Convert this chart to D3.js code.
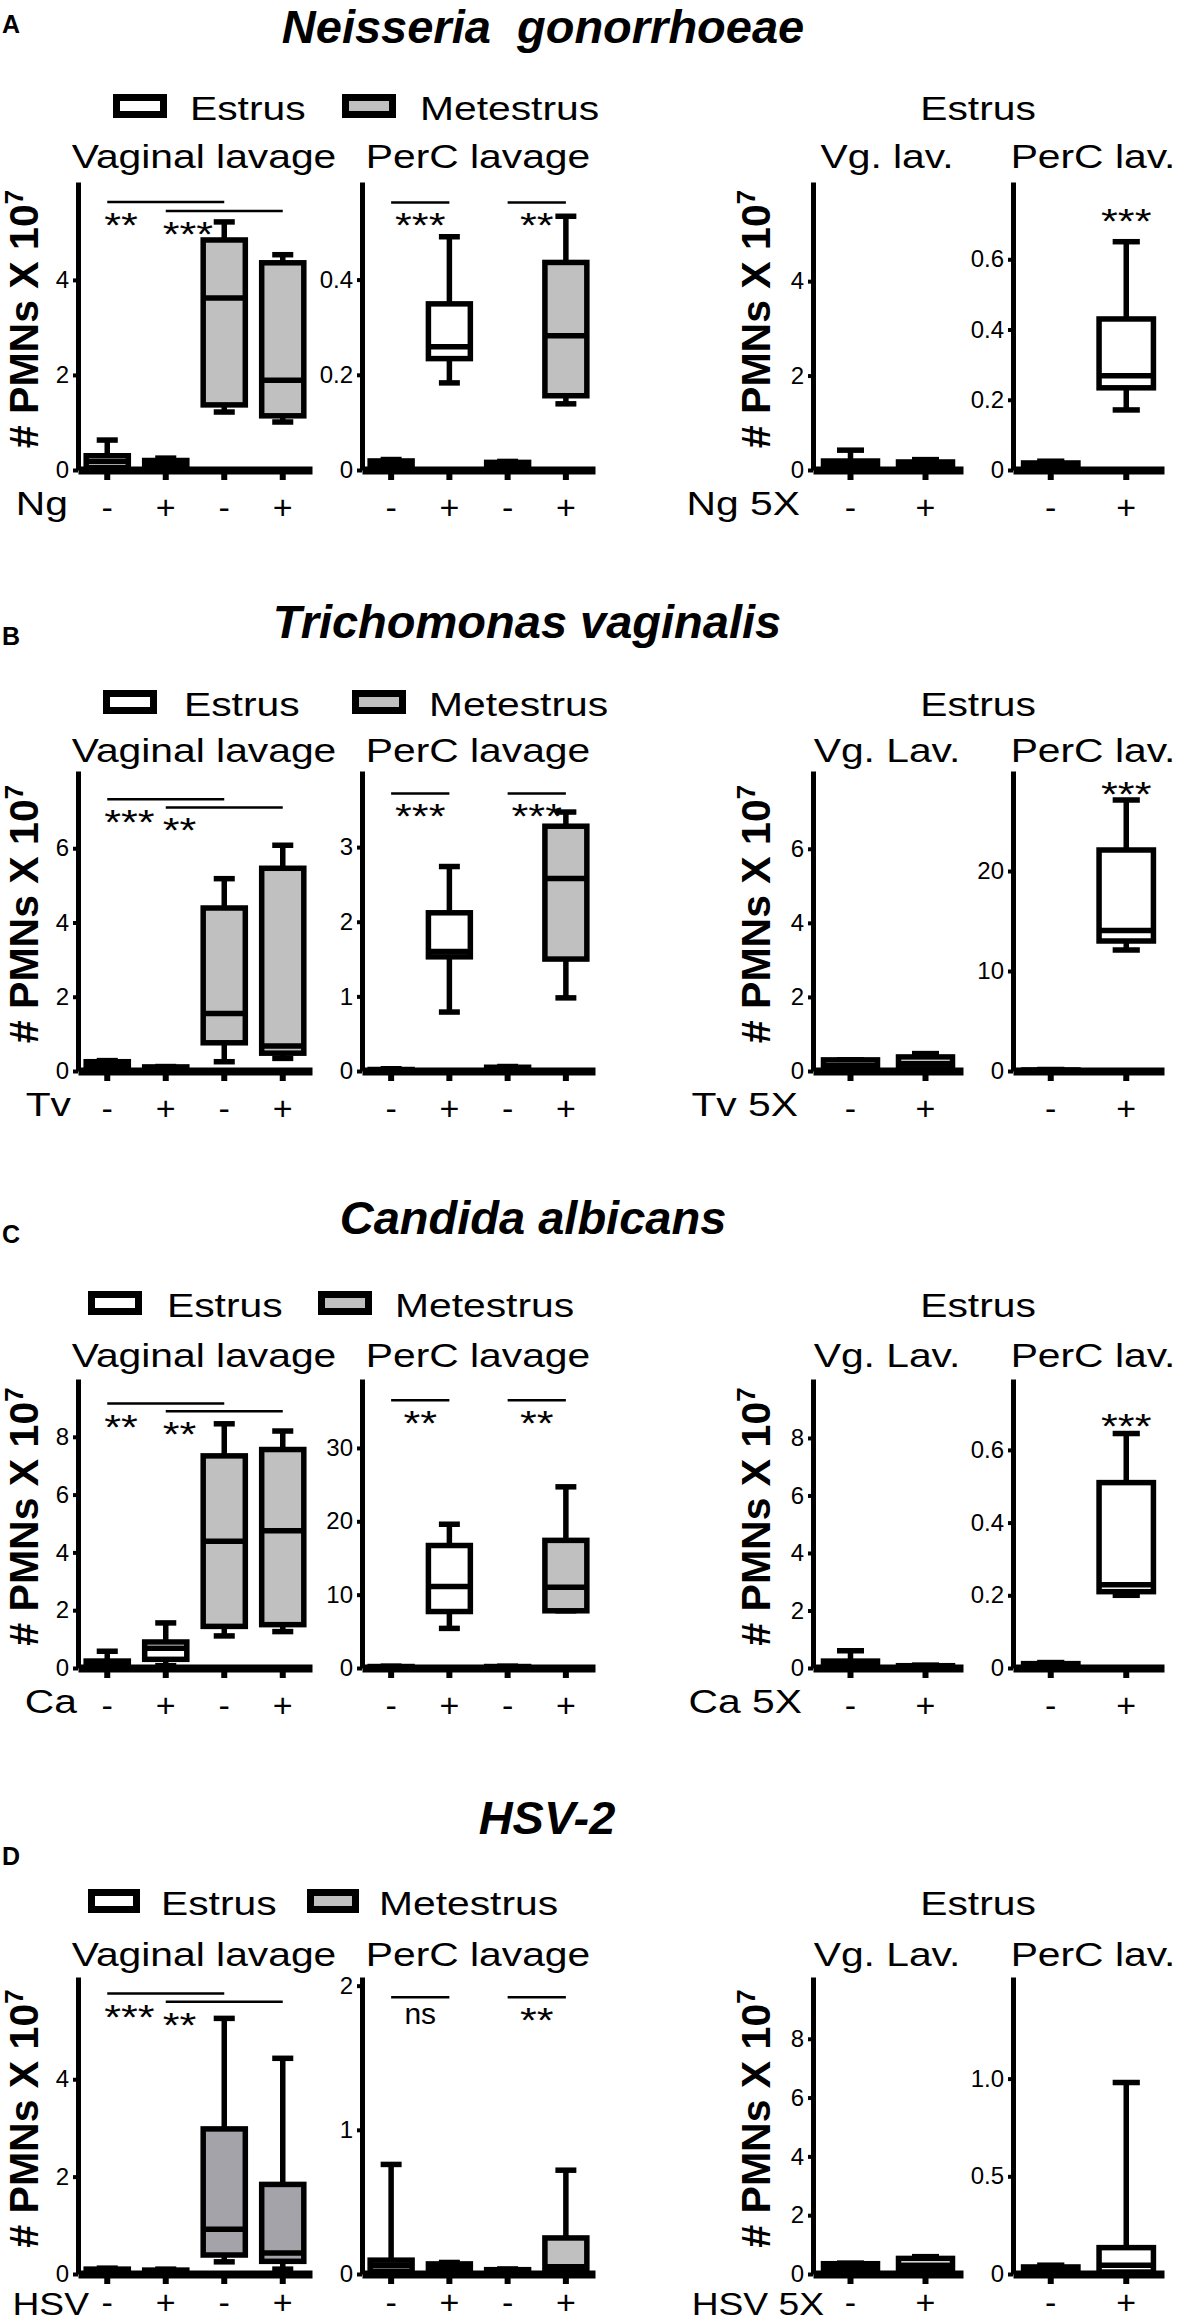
<!DOCTYPE html>
<html>
<head>
<meta charset="utf-8">
<script src="https://cdnjs.cloudflare.com/ajax/libs/d3/7.8.5/d3.min.js"></script>
<style>
body { margin: 0; background: #fff; }
text { font-family: "Liberation Sans", Arial, Helvetica, sans-serif; fill: #000; }
</style>
</head>
<body>
<div id="chart-area"></div>
<script>
// ====================== DATA =======================================
var panelLetters = ["A", "B", "C", "D"];
var panelTitles = ["Neisseria  gonorrhoeae", "Trichomonas vaginalis", "Candida albicans", "HSV-2"];
var agentLabels = ["Ng", "Tv", "Ca", "HSV"];
var agent5xLabels = ["Ng 5X", "Tv 5X", "Ca 5X", "HSV 5X"];
var legendLabels = ["Estrus", "Metestrus"];
var plotTitles = ["Vaginal lavage", "PerC lavage"];
var plotTitles5x = [["Vg. lav.", "PerC lav."], ["Vg. Lav.", "PerC lav."], ["Vg. Lav.", "PerC lav."], ["Vg. Lav.", "PerC lav."]];
var header5x = "Estrus";
var yTitle = "# PMNs X 10";
var yTitleExp = "7";

// groups: stage index (0 = Estrus, 1 = Metestrus) and infection sign
var groupStage = [0, 0, 1, 1];
var groupSign = ["-", "+", "-", "+"];
var groupStage5x = [0, 0];
var groupSign5x = ["-", "+"];

// box stats: [whisker low, Q1, median, Q3, whisker high]
var ngVaginal = [[0, 0.05, 0.18, 0.30, 0.63], [0, 0.03, 0.12, 0.20, 0.25], [1.22, 1.37, 3.62, 4.84, 5.22], [1.01, 1.14, 1.89, 4.36, 4.53]];
var ngPerC = [[0, 0.003, 0.01, 0.019, 0.022], [0.183, 0.234, 0.259, 0.349, 0.49], [0, 0.002, 0.008, 0.016, 0.018], [0.139, 0.156, 0.282, 0.436, 0.533]];
var ng5xVaginal = [[0, 0.02, 0.10, 0.19, 0.42], [0, 0.02, 0.08, 0.17, 0.22]];
var ng5xPerC = [[0, 0.003, 0.01, 0.02, 0.025], [0.171, 0.234, 0.268, 0.43, 0.65]];

var tvVaginal = [[0, 0.03, 0.12, 0.25, 0.28], [0, 0.01, 0.05, 0.11, 0.12], [0.25, 0.76, 1.55, 4.39, 5.18], [0.34, 0.48, 0.67, 5.46, 6.08]];
var tvPerC = [[0, 0.005, 0.01, 0.02, 0.03], [0.79, 1.53, 1.6, 2.12, 2.74], [0, 0.01, 0.03, 0.05, 0.06], [0.98, 1.5, 2.58, 3.28, 3.47]];
var tv5xVaginal = [[0, 0.05, 0.15, 0.30, 0.30], [0.02, 0.06, 0.2, 0.38, 0.47]];
var tv5xPerC = [[0, 0.02, 0.05, 0.1, 0.15], [12.1, 13.0, 14.05, 22.1, 27.1]];

var caVaginal = [[0, 0.02, 0.1, 0.24, 0.58], [0.08, 0.3, 0.68, 0.9, 1.56], [1.11, 1.44, 4.39, 7.34, 8.45], [1.26, 1.5, 4.75, 7.56, 8.2]];
var caPerC = [[0, 0.05, 0.1, 0.2, 0.25], [5.4, 7.7, 11.1, 16.7, 19.6], [0, 0.05, 0.1, 0.2, 0.25], [7.8, 7.8, 11.0, 17.4, 24.7]];
var ca5xVaginal = [[0, 0.02, 0.12, 0.24, 0.6], [0, 0.01, 0.04, 0.08, 0.1]];
var ca5xPerC = [[0, 0.002, 0.006, 0.012, 0.015], [0.2, 0.21, 0.229, 0.51, 0.645]];

var hsvVaginal = [[0, 0.01, 0.05, 0.1, 0.12], [0, 0.01, 0.04, 0.08, 0.1], [0.25, 0.39, 0.92, 2.98, 5.25], [0.1, 0.26, 0.43, 1.84, 4.43]];
var hsvPerC = [[0, 0.02, 0.06, 0.096, 0.76], [0, 0.01, 0.04, 0.07, 0.08], [0, 0.005, 0.015, 0.03, 0.035], [0, 0.02, 0.05, 0.25, 0.72]];
var hsv5xVaginal = [[0, 0.05, 0.2, 0.35, 0.37], [0.1, 0.18, 0.3, 0.53, 0.59]];
var hsv5xPerC = [[0, 0.005, 0.02, 0.036, 0.045], [0, 0.01, 0.045, 0.135, 0.98]];

// y axis top value per plot (vaginal, perc, 5x vaginal, 5x perc)
var ngYMax = [6.06, 0.605, 6.1, 0.82];
var tvYMax = [8.08, 4.02, 8.1, 30];
var caYMax = [10, 39.4, 10.05, 0.795];
var hsvYMax = [6.1, 2.06, 10.1, 1.52];

// y ticks
var ngTicks = [[0, 2, 4], [0, 0.2, 0.4], [0, 2, 4], [0, 0.2, 0.4, 0.6]];
var tvTicks = [[0, 2, 4, 6], [0, 1, 2, 3], [0, 2, 4, 6], [0, 10, 20]];
var caTicks = [[0, 2, 4, 6, 8], [0, 10, 20, 30], [0, 2, 4, 6, 8], [0, 0.2, 0.4, 0.6]];
var hsvTicks = [[0, 2, 4], [0, 1, 2], [0, 2, 4, 6, 8], [0, 0.5, 1.0]];
var ngTickLabels = [["0", "2", "4"], ["0", "0.2", "0.4"], ["0", "2", "4"], ["0", "0.2", "0.4", "0.6"]];
var tvTickLabels = [["0", "2", "4", "6"], ["0", "1", "2", "3"], ["0", "2", "4", "6"], ["0", "10", "20"]];
var caTickLabels = [["0", "2", "4", "6", "8"], ["0", "10", "20", "30"], ["0", "2", "4", "6", "8"], ["0", "0.2", "0.4", "0.6"]];
var hsvTickLabels = [["0", "2", "4"], ["0", "1", "2"], ["0", "2", "4", "6", "8"], ["0", "0.5", "1.0"]];

// significance: [from group, to group, level, label]; same group = no bar
var ngSig = [[[0, 2, 5.64, "**"], [1, 3, 5.45, "***"]], [[0, 1, 0.562, "***"], [2, 3, 0.562, "**"]], [], [[1, 1, 0.734, "***"]]];
var tvSig = [[[0, 2, 7.32, "***"], [1, 3, 7.1, "**"]], [[0, 1, 3.72, "***"], [2, 3, 3.72, "***"]], [], [[1, 1, 28.6, "***"]]];
var caSig = [[[0, 2, 9.15, "**"], [1, 3, 8.88, "**"]], [[0, 1, 36.5, "**"], [2, 3, 36.5, "**"]], [], [[1, 1, 0.69, "***"]]];
var hsvSig = [[[0, 2, 5.76, "***"], [1, 3, 5.59, "**"]], [[0, 1, 1.92, "ns"], [2, 3, 1.92, "**"]], [], []];

// tables built from the arrays above
var panelBoxes = [
    [ngVaginal, ngPerC, ng5xVaginal, ng5xPerC],
    [tvVaginal, tvPerC, tv5xVaginal, tv5xPerC],
    [caVaginal, caPerC, ca5xVaginal, ca5xPerC],
    [hsvVaginal, hsvPerC, hsv5xVaginal, hsv5xPerC]
];
var panelYMax = [ngYMax, tvYMax, caYMax, hsvYMax];
var panelTicks = [ngTicks, tvTicks, caTicks, hsvTicks];
var panelTickLabels = [ngTickLabels, tvTickLabels, caTickLabels, hsvTickLabels];
var panelSig = [ngSig, tvSig, caSig, hsvSig];

// ====================== LAYOUT =====================================
// panel D sits on the page bottom: its bottom row is pulled up a little and set smaller
var layout = [
    {top: 182, bottom: 470, titleX: 543, titleY: 43, letterY: 33, legendY: 106, subY: 168, boxX: [113, 342], textX: [190, 420], agentX: 68, agent5xX: 800, tickDy: 0, agentDy: 45, agentSize: 34},
    {top: 771, bottom: 1071, titleX: 527, titleY: 638, letterY: 645, legendY: 702, subY: 762, boxX: [103, 352], textX: [184, 429], agentX: 71, agent5xX: 798, tickDy: 0, agentDy: 45, agentSize: 34},
    {top: 1379, bottom: 1668, titleX: 533, titleY: 1234, letterY: 1243, legendY: 1303, subY: 1367, boxX: [88, 318], textX: [167, 395], agentX: 77, agent5xX: 802, tickDy: 0, agentDy: 45, agentSize: 34},
    {top: 1977, bottom: 2274, titleX: 547, titleY: 1834, letterY: 1865, legendY: 1901, subY: 1966, boxX: [88, 307], textX: [161, 379], agentX: 89, agent5xX: 824, tickDy: -9, agentDy: 41, agentSize: 31}
];
var plotX = [[78, 312], [362, 595], [813, 963], [1013, 1164]];
var subX = [204, 478, 887, 1093];
var stageFill = ["#ffffff", "#c0c0c0"];
var darkFill = "#a3a3a9"; // HSV vaginal metestrus boxes are darker
var stretch = 1.2;

var svg = d3.select("#chart-area")
    .append("svg")
        .attr("width", 1181)
        .attr("height", 2322);

function addText(parent, x, y, str, size, anchor, sx) {
    return parent.append("text")
        .attr("transform", "translate(" + x + "," + y + ") scale(" + (sx || 1) + ",1)")
        .attr("text-anchor", anchor || "start")
        .attr("font-size", size)
        .text(str);
}

function addYLabel(parent, cx, cy) {
    var t = parent.append("text")
        .attr("transform", "translate(" + cx + "," + cy + ") rotate(-90)")
        .attr("text-anchor", "middle")
        .attr("font-size", 41)
        .attr("font-weight", "bold");
    t.append("tspan").attr("dy", "0.36em").text(yTitle);
    t.append("tspan").attr("font-size", 26).attr("dy", "-0.55em").text(yTitleExp);
}

function drawPlot(g, p, k, L) {
    var boxes = panelBoxes[p][k];
    var stages = k < 2 ? groupStage : groupStage5x;
    var signs = k < 2 ? groupSign : groupSign5x;

    var x = d3.scaleBand()
        .domain(d3.range(boxes.length))
        .range(plotX[k]);
    var y = d3.scaleLinear()
        .domain([0, panelYMax[p][k]])
        .range([L.bottom, L.top]);

    var bw = x.bandwidth() * 0.72;
    var cap = x.bandwidth() * 0.36;
    function cx(i) { return x(i) + x.bandwidth() / 2; }

    // boxes
    var bg = g.append("g")
        .attr("stroke", "#000")
        .attr("stroke-width", 5.5);

    boxes.forEach(function(b, i) {
        var c = cx(i);
        var fill = stageFill[stages[i]];
        if (p === 3 && k === 0 && stages[i] === 1) fill = darkFill;
        bg.append("line")
            .attr("x1", c).attr("x2", c)
            .attr("y1", y(b[0])).attr("y2", y(b[4]));
        bg.append("line")
            .attr("x1", c - cap / 2).attr("x2", c + cap / 2)
            .attr("y1", y(b[4])).attr("y2", y(b[4]));
        bg.append("line")
            .attr("x1", c - cap / 2).attr("x2", c + cap / 2)
            .attr("y1", y(b[0])).attr("y2", y(b[0]));
        bg.append("rect")
            .attr("x", c - bw / 2)
            .attr("y", y(b[3]))
            .attr("width", bw)
            .attr("height", y(b[1]) - y(b[3]))
            .attr("fill", fill);
        bg.append("line")
            .attr("x1", c - bw / 2).attr("x2", c + bw / 2)
            .attr("y1", y(b[2])).attr("y2", y(b[2]));
    });

    // x axis (font size has to be set after call, the axis resets it)
    var xAxis = d3.axisBottom(x)
        .tickSize(10)
        .tickSizeOuter(0)
        .tickPadding(15 + L.tickDy)
        .tickFormat(function(i) { return signs[i]; });
    var xg = g.append("g")
        .attr("transform", "translate(0," + L.bottom + ")")
        .call(xAxis)
        .attr("font-size", 34);
    xg.select(".domain").attr("stroke-width", 8);
    xg.selectAll(".tick line").attr("stroke-width", 6);

    // y axis
    var labels = panelTickLabels[p][k];
    var yAxis = d3.axisLeft(y)
        .tickValues(panelTicks[p][k])
        .tickSize(5)
        .tickSizeOuter(0)
        .tickPadding(4)
        .tickFormat(function(d, i) { return labels[i]; });
    var yg = g.append("g")
        .attr("transform", "translate(" + plotX[k][0] + ",0)")
        .call(yAxis)
        .attr("font-size", 24);
    yg.select(".domain").attr("stroke-width", 5);
    yg.selectAll(".tick line").attr("stroke-width", 4);

    // significance marks
    panelSig[p][k].forEach(function(s) {
        var x1 = cx(s[0]), x2 = cx(s[1]);
        var ly = y(s[2]);
        if (s[0] === s[1]) {
            addText(g, x1, ly + 21, s[3], 36, "middle", stretch);
            return;
        }
        g.append("line")
            .attr("x1", x1).attr("x2", x2)
            .attr("y1", ly).attr("y2", ly)
            .attr("stroke", "#000")
            .attr("stroke-width", 2.5);
        var ns = s[3] === "ns";
        var tx = k === 0 ? x1 - 3 : (x1 + x2) / 2;
        addText(g, tx, ly + (ns ? 27 : 35), s[3], ns ? 30 : 36, k === 0 ? "start" : "middle", ns ? 1 : stretch);
    });
}

// ====================== DRAW PANELS ================================
layout.forEach(function(L, p) {
    var g = svg.append("g").attr("class", "panel");

    addText(g, 2, L.letterY, panelLetters[p], 25).attr("font-weight", "bold");
    addText(g, L.titleX, L.titleY, panelTitles[p], 47, "middle")
        .attr("font-weight", "bold")
        .attr("font-style", "italic")
        .style("white-space", "pre");

    // legend
    legendLabels.forEach(function(lab, i) {
        var bwid = p === 3 ? 52 : 54;
        g.append("rect")
            .attr("x", L.boxX[i] + 3.5)
            .attr("y", L.legendY - 12 + 3.5)
            .attr("width", bwid - 7)
            .attr("height", 24 - 7)
            .attr("fill", stageFill[i])
            .attr("stroke", "#000")
            .attr("stroke-width", 7);
        addText(g, L.textX[i], L.legendY + 14, lab, 34, "start", stretch);
    });
    addText(g, 978, L.legendY + 14, header5x, 34, "middle", stretch);

    // plot titles
    addText(g, subX[0], L.subY, plotTitles[0], 34, "middle", stretch);
    addText(g, subX[1], L.subY, plotTitles[1], 34, "middle", stretch);
    addText(g, subX[2], L.subY, plotTitles5x[p][0], 34, "middle", stretch);
    addText(g, subX[3], L.subY, plotTitles5x[p][1], 34, "middle", stretch);

    // y titles
    var mid = (L.top + L.bottom) / 2 - 7;
    addYLabel(g, 23, mid);
    addYLabel(g, 755, mid);

    // infection labels
    addText(g, L.agentX, L.bottom + L.agentDy, agentLabels[p], L.agentSize, "end", stretch);
    addText(g, L.agent5xX, L.bottom + L.agentDy, agent5xLabels[p], L.agentSize, "end", stretch);

    for (var k = 0; k < 4; k++) drawPlot(g, p, k, L);
});
</script>
</body>
</html>
